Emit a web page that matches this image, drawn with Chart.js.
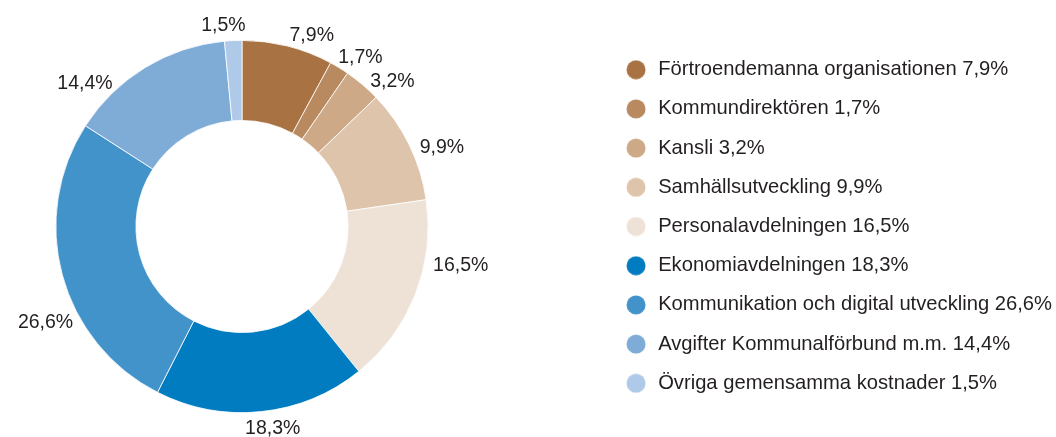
<!DOCTYPE html>
<html>
<head>
<meta charset="utf-8">
<script src="https://cdn.jsdelivr.net/npm/chart.js@4/dist/chart.umd.min.js"></script>
<style>
  html, body { margin: 0; padding: 0; background: #fff; }
  #wrap { width: 1056px; height: 437px; position: relative; }
</style>
</head>
<body>
<div id="wrap"><canvas id="chart"></canvas></div>
<script>
// Data
const categories = [
	'Förtroendemanna organisationen',
	'Kommundirektören',
	'Kansli',
	'Samhällsutveckling',
	'Personalavdelningen',
	'Ekonomiavdelningen',
	'Kommunikation och digital utveckling',
	'Avgifter Kommunalförbund m.m.',
	'Övriga gemensamma kostnader'
];
const values = [7.9, 1.7, 3.2, 9.9, 16.5, 18.3, 26.6, 14.4, 1.5];
const colors = ['#A97243', '#B98A5F', '#CDA987', '#DEC4AB', '#EEE2D6', '#017CC0', '#4393CB', '#7FACD7', '#AFC9E8'];

// small angular nudges (degrees) for the outside labels, like the original
const labelNudge = [4.5, 1.5, 3.5, 3, -10.5, -2, -13, -13.5, -2.2];

const FONT = "'Liberation Sans', Arial, sans-serif";
const TEXT = '#231F20';
const DONUT_CX = 242;

const pct = v => v.toFixed(1).replace('.', ',') + '%';

function dot(color) {
	const c = document.createElement('canvas');
	c.width = c.height = 20;
	const g = c.getContext('2d');
	g.fillStyle = color;
	g.beginPath();
	g.arc(10, 10, 9.5, 0, Math.PI * 2);
	g.fill();
	return c;
}

// keep the ring square and at its own place left of the legend
const donutArea = {
	id: 'donutArea',
	afterLayout(chart) {
		const a = chart.chartArea;
		const size = a.bottom - a.top;
		a.left = DONUT_CX - size / 2;
		a.right = a.left + size;
		a.width = size;
	}
};

const outsideLabels = {
	id: 'outsideLabels',
	afterDatasetsDraw(chart) {
		const ctx = chart.ctx;
		const meta = chart.getDatasetMeta(0);
		ctx.save();
		ctx.font = '19.5px ' + FONT;
		ctx.fillStyle = TEXT;
		ctx.textAlign = 'center';
		ctx.textBaseline = 'middle';
		meta.data.forEach((arc, i) => {
			const p = arc.getProps(['x', 'y', 'startAngle', 'endAngle', 'outerRadius'], true);
			const a = (p.startAngle + p.endAngle) / 2 + labelNudge[i] * Math.PI / 180;
			const text = pct(values[i]);
			const w = ctx.measureText(text).width;
			const h = 15;
			const r = p.outerRadius + 9;
			const cx = p.x + Math.cos(a) * (r + w / 2);
			const cy = p.y + Math.sin(a) * r + Math.sin(a) * h / 2;
			ctx.fillText(text, cx, cy + 1);
		});
		ctx.restore();
	}
};

new Chart(document.getElementById('chart'), {
	type: 'doughnut',
	data: {
		labels: categories,
		datasets: [{
			data: values,
			backgroundColor: colors,
			borderColor: '#fff',
			borderWidth: 0.8
		}]
	},
	options: {
		responsive: true,
		maintainAspectRatio: false,
		animation: false,
		cutout: '57%',
		layout: { padding: { top: 40, bottom: 24, left: 0, right: -6 } },
		plugins: {
			tooltip: { enabled: false },
			legend: {
				position: 'right',
				align: 'center',
				labels: {
					usePointStyle: true,
					pointStyleWidth: 24,
					padding: 19,
					color: TEXT,
					font: { family: FONT, size: 20.2 },
					generateLabels(chart) {
						const items = Chart.overrides.doughnut.plugins.legend.labels.generateLabels(chart);
						return items.map((it, i) => Object.assign(it, {
							text: categories[i] + ' ' + pct(values[i]),
							pointStyle: dot(colors[i])
						}));
					}
				}
			}
		}
	},
	plugins: [donutArea, outsideLabels]
});
</script>
</body>
</html>
